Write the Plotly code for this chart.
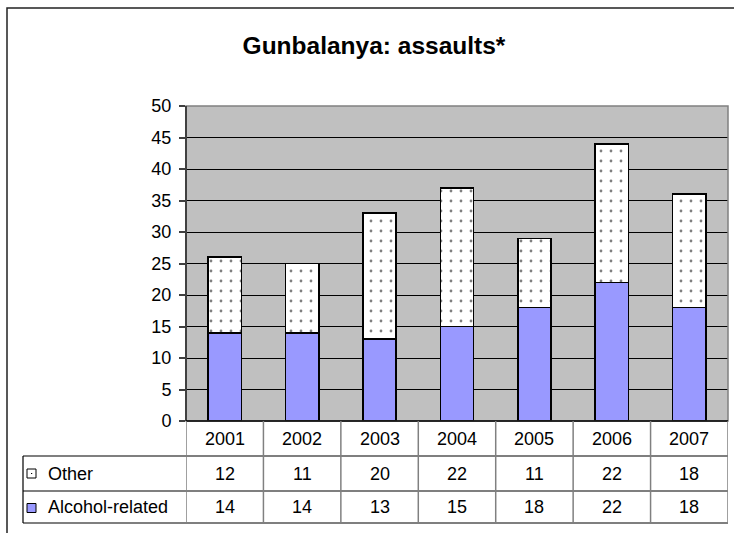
import plotly.graph_objects as go

# Assault counts by year, split by whether alcohol was involved
years = ["2001", "2002", "2003", "2004", "2005", "2006", "2007"]
alcohol_related = [14, 14, 13, 15, 18, 22, 18]
other = [12, 11, 20, 22, 11, 22, 18]
series_names = ["Other", "Alcohol-related"]
title_text = "Gunbalanya: assaults*"

BLUE = "#9999FF"
PLOT_BG = "#C0C0C0"
FONT = "Liberation Sans, Arial, sans-serif"

W, H = 734, 533
L, R, T, B = 186, 6, 106, 112
PW, PH = W - L - R, H - T - B


def px_x(px):
    return (px - L) / PW


def px_y(py):
    return (H - B - py) / PH


fig = go.Figure()
fig.add_trace(go.Bar(
    x=years, y=alcohol_related, name=series_names[1],
    marker=dict(color=BLUE, line=dict(color="black", width=1.5)),
))
fig.add_trace(go.Bar(
    x=years, y=other, name=series_names[0],
    marker=dict(color="white", line=dict(color="black", width=1.5),
                pattern=dict(shape=".", fgcolor="black", bgcolor="white",
                             size=10, solidity=0.06)),
))

shapes = []
annotations = []

# outer chart frame (runs off the right and bottom edges)
shapes.append(dict(type="rect", xref="paper", yref="paper",
                   x0=px_x(7), x1=px_x(745), y0=px_y(545), y1=px_y(8),
                   line=dict(color="#222", width=1.5), layer="above"))

# plot area border
shapes.append(dict(type="rect", xref="paper", yref="paper",
                   x0=0, x1=1, y0=0, y1=1,
                   line=dict(color="#808080", width=1.5), layer="above"))
# y axis line
shapes.append(dict(type="line", xref="paper", yref="paper",
                   x0=0, x1=0, y0=0, y1=1,
                   line=dict(color="#404040", width=2), layer="above"))

# data table grid
row_bounds = [421, 456, 491, 523]
row_y = [px_y(p) for p in row_bounds]
for yb in row_y[1:]:
    shapes.append(dict(type="line", xref="paper", yref="paper",
                       x0=px_x(23), x1=1, y0=yb, y1=yb,
                       line=dict(color="black", width=1.2)))
shapes.append(dict(type="line", xref="paper", yref="paper",
                   x0=0, x1=1, y0=0, y1=0,
                   line=dict(color="black", width=1.5), layer="above"))
shapes.append(dict(type="line", xref="paper", yref="paper",
                   x0=px_x(23), x1=px_x(23), y0=row_y[3], y1=row_y[1],
                   line=dict(color="black", width=1.2)))
for k in range(len(years) + 1):
    shapes.append(dict(type="line", xref="x", yref="paper",
                       x0=k - 0.5, x1=k - 0.5, y0=row_y[3], y1=0,
                       line=dict(color="#808080", width=1.5)))

# table text
hdr_y = px_y((row_bounds[0] + row_bounds[1]) / 2)
oth_y = px_y((row_bounds[1] + row_bounds[2]) / 2)
alc_y = px_y((row_bounds[2] + row_bounds[3]) / 2)
tfont = dict(family=FONT, size=18, color="black")
for i, (yr, o, a) in enumerate(zip(years, other, alcohol_related)):
    for yv, txt in ((hdr_y, yr), (oth_y, str(o)), (alc_y, str(a))):
        annotations.append(dict(x=i, y=yv, xref="x", yref="paper", text=txt,
                                xanchor="center", yanchor="middle",
                                showarrow=False, font=tfont))
for yv, txt in ((oth_y, series_names[0]), (alc_y, series_names[1])):
    annotations.append(dict(x=px_x(46), y=yv, xref="paper", yref="paper",
                            text=txt, xanchor="left", yanchor="middle",
                            showarrow=False, font=tfont))

# legend keys inside the table
oth_c = (row_bounds[1] + row_bounds[2]) / 2
alc_c = (row_bounds[2] + row_bounds[3]) / 2 + 1
shapes.append(dict(type="rect", xref="paper", yref="paper",
                   x0=px_x(27), x1=px_x(36), y0=px_y(oth_c + 4.5), y1=px_y(oth_c - 4.5),
                   fillcolor="white", line=dict(color="black", width=1)))
shapes.append(dict(type="rect", xref="paper", yref="paper",
                   x0=px_x(31), x1=px_x(32.2), y0=px_y(oth_c + 0.6), y1=px_y(oth_c - 0.6),
                   fillcolor="black", line=dict(width=0)))
shapes.append(dict(type="rect", xref="paper", yref="paper",
                   x0=px_x(27), x1=px_x(36), y0=px_y(alc_c + 4.5), y1=px_y(alc_c - 4.5),
                   fillcolor=BLUE, line=dict(color="black", width=1)))

fig.update_layout(
    width=W, height=H,
    margin=dict(l=L, r=R, t=T, b=B, pad=0),
    barmode="stack",
    bargap=0.57,
    showlegend=False,
    paper_bgcolor="white",
    plot_bgcolor=PLOT_BG,
    font=dict(family=FONT, size=18, color="black"),
    title=dict(text="<b>" + title_text + "</b>", x=374 / W, xref="container",
               xanchor="center", y=1 - 45 / H, yref="container", yanchor="middle",
               font=dict(family=FONT, size=24.5, color="black")),
    xaxis=dict(type="category", showticklabels=False, ticks="",
               showgrid=False, zeroline=False, showline=False,
               range=[-0.5, len(years) - 0.5]),
    yaxis=dict(range=[0, 50], dtick=5, tick0=0, showgrid=True,
               gridcolor="black", gridwidth=1, zeroline=False,
               ticks="outside", ticklen=6, tickcolor="#404040", tickwidth=1.5,
               ticklabelstandoff=4, showline=False,
               tickfont=dict(family=FONT, size=18, color="black")),
    shapes=shapes,
    annotations=annotations,
)

fig.write_html("out.html")
